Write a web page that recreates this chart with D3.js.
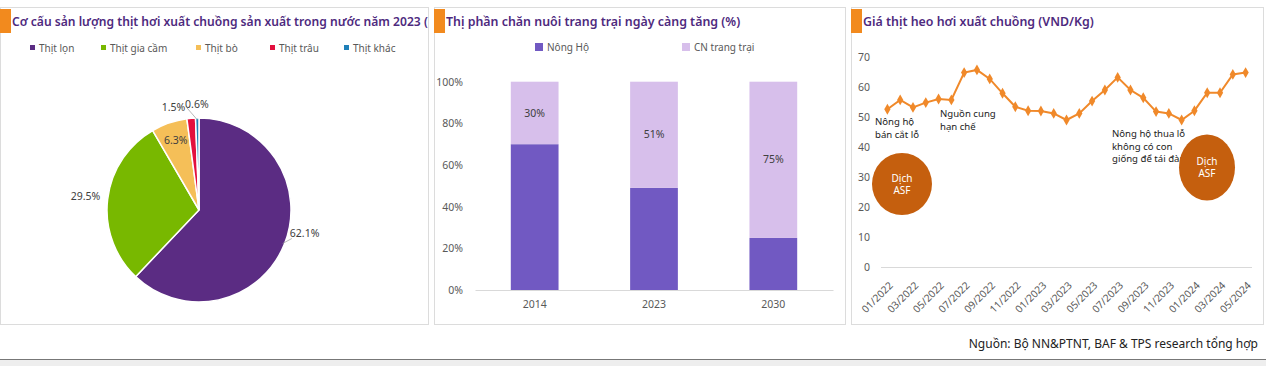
<!DOCTYPE html>
<html>
<head>
<meta charset="utf-8">
<script src="https://cdn.jsdelivr.net/npm/d3@7"></script>
<style>
  body { margin: 0; background: #fff; }
  svg { display: block; font-family: "Noto Sans", sans-serif; }
</style>
</head>
<body>
<svg id="chart" width="1266" height="366"></svg>
<script>
// ---- data ----
const meatTypes = ["Thịt lọn", "Thịt gia cầm", "Thịt bò", "Thịt trâu", "Thịt khác"];
const meatShares = [62.1, 29.5, 6.3, 1.5, 0.6];
const meatColors = ["#5b2c83", "#78b800", "#f5bf58", "#e3103e", "#1f80b8"];

const farmYears = ["2014", "2023", "2030"];
const householdShare = [70, 49, 25];
const farmShare = [30, 51, 75];
const farmSeries = ["Nông Hộ", "CN trang trại"];

const months = ["01/2022","02/2022","03/2022","04/2022","05/2022","06/2022","07/2022","08/2022",
  "09/2022","10/2022","11/2022","12/2022","01/2023","02/2023","03/2023","04/2023","05/2023",
  "06/2023","07/2023","08/2023","09/2023","10/2023","11/2023","12/2023","01/2024","02/2024",
  "03/2024","04/2024","05/2024"];
const hogPrice = [52.6, 55.7, 53.2, 54.8, 56.0, 55.7, 64.8, 65.7, 62.7, 57.9, 53.4, 52.1, 52.0,
  51.2, 49.0, 51.2, 55.3, 59.0, 63.2, 59.0, 56.4, 51.8, 51.2, 49.0, 52.1, 58.1, 58.1, 64.2, 64.8];
const priceTicks = [0, 10, 20, 30, 40, 50, 60, 70];

const svg = d3.select("#chart");
const titleColor = "#4e2a7e";
const axisText = "#595959";

// ---- panels ----
function panel(x, w, title, barX, fs) {
  svg.append("rect").attr("x", x + 0.5).attr("y", 7.5).attr("width", w).attr("height", 317)
    .attr("fill", "#fff").attr("stroke", "#dcdcdc");
  svg.append("rect").attr("x", barX).attr("y", 9).attr("width", 11).attr("height", 24).attr("fill", "#f28a1e");
  const id = "clip" + x;
  svg.append("clipPath").attr("id", id).append("rect")
    .attr("x", x).attr("y", 0).attr("width", w).attr("height", 40);
  svg.append("text").attr("clip-path", `url(#${id})`)
    .attr("x", barX + 12).attr("y", 26)
    .attr("font-size", fs).attr("font-weight", 600).attr("fill", titleColor)
    .text(title);
}
panel(0, 428, "Cơ cấu sản lượng thịt hơi xuất chuồng sản xuất trong nước năm 2023 (", 0, 12.1);
panel(434, 411, "Thị phần chăn nuôi trang trại ngày càng tăng (%)", 434, 12.4);
panel(851, 412, "Giá thịt heo hơi xuất chuồng (VND/Kg)", 851, 12.4);

// ---- pie ----
{
  const cx = 199, cy = 210, r = 92;
  const g = svg.append("g").attr("transform", `translate(${cx},${cy})`);
  const pie = d3.pie().sort(null).value(d => d)(meatShares);
  const arc = d3.arc().innerRadius(0).outerRadius(r);
  g.selectAll("path").data(pie).join("path")
    .attr("d", arc).attr("fill", (d, i) => meatColors[i])
    .attr("stroke", "#fff").attr("stroke-width", 1.5);

  const mid = d => (d.startAngle + d.endAngle) / 2;
  const pt = (a, rr) => [rr * Math.sin(a), -rr * Math.cos(a)];
  // label placement: radius factor, anchor, dx, dy
  const place = [
    { k: 1.04, anchor: "start", dx: 2, dy: -12, line: true },
    { k: 1.08, anchor: "end", dx: 0, dy: -2 },
    { k: 0.78, anchor: "middle", dx: 0, dy: -2 },
    { k: 1.12, anchor: "end", dx: -5, dy: 0 },
    { k: 1.12, anchor: "start", dx: -12, dy: -3, line: true }
  ];
  pie.forEach((d, i) => {
    const p = place[i];
    const [x, y] = pt(mid(d), r * p.k);
    const tx = x + p.dx, ty = y + p.dy;
    if (p.line) {
      const [x0, y0] = pt(mid(d), r * 0.98);
      g.append("line").attr("x1", x0).attr("y1", y0)
        .attr("x2", tx + (p.anchor === "start" ? 2 : -2)).attr("y2", ty + (i === 0 ? 5 : 4))
        .attr("stroke", "#a6a6a6").attr("stroke-width", 0.8);
    }
    g.append("text").attr("x", tx).attr("y", ty).attr("dy", "0.35em")
      .attr("text-anchor", p.anchor).attr("font-size", 10.5).attr("fill", "#404040")
      .text(d3.format(".1f")(meatShares[i]) + "%");
  });

  // legend
  const lg = svg.append("g").selectAll("g").data(meatTypes).join("g")
    .attr("transform", (d, i) => `translate(${[30, 101, 196, 270, 344][i]},48)`);
  lg.append("rect").attr("x", 0).attr("y", -3).attr("width", 5).attr("height", 5)
    .attr("fill", (d, i) => meatColors[i]);
  lg.append("text").attr("x", 9).attr("y", 0).attr("dy", "0.35em")
    .attr("font-size", 10).attr("fill", "#595959").text(d => d);
}

// ---- stacked bars ----
{
  const x = d3.scaleBand().domain(farmYears).range([475, 833]).paddingInner(0.6).paddingOuter(0.3);
  const y = d3.scaleLinear().domain([0, 100]).range([290, 81.7]);
  const colors = ["#7159c2", "#d7bfeb"];
  const rows = farmYears.map((yr, i) => ({ year: yr, h: householdShare[i], f: farmShare[i] }));
  const stack = d3.stack().keys(["h", "f"])(rows);

  const ya = svg.append("g").attr("transform", "translate(475,0)")
    .call(d3.axisLeft(y).tickValues([0, 20, 40, 60, 80, 100]).tickFormat(d => d + "%").tickSize(0).tickPadding(12));
  ya.select(".domain").remove();
  ya.selectAll("text").attr("font-size", 10.5).attr("fill", axisText).attr("font-family", "Noto Sans");

  svg.append("g").selectAll("g").data(stack).join("g")
    .attr("fill", (d, i) => colors[i])
    .selectAll("rect").data(d => d).join("rect")
    .attr("x", d => x(d.data.year)).attr("width", x.bandwidth())
    .attr("y", d => y(Math.min(100, d[1]))).attr("height", d => y(d[0]) - y(Math.min(100, d[1])));

  svg.append("g").selectAll("text").data(stack[1]).join("text")
    .attr("x", d => x(d.data.year) + x.bandwidth() / 2)
    .attr("y", d => y((d[0] + Math.min(100, d[1])) / 2))
    .attr("dy", "0.35em").attr("text-anchor", "middle")
    .attr("font-size", 10.5).attr("fill", "#404040")
    .text(d => d.data.f + "%");

  const xa = svg.append("g").attr("transform", "translate(0,290)")
    .call(d3.axisBottom(x).tickSize(0).tickPadding(11));
  xa.select(".domain").attr("stroke", "#d9d9d9");
  xa.selectAll("text").attr("font-size", 10.5).attr("fill", axisText).attr("font-family", "Noto Sans");

  const lg = svg.append("g").selectAll("g").data(farmSeries).join("g")
    .attr("transform", (d, i) => `translate(${[535, 682][i]},47)`);
  lg.append("rect").attr("x", 0).attr("y", -4).attr("width", 8).attr("height", 8).attr("fill", (d, i) => colors[i]);
  lg.append("text").attr("x", 12).attr("y", 0).attr("dy", "0.35em")
    .attr("font-size", 10).attr("fill", "#595959").text(d => d);
}

// ---- line chart ----
{
  const x = d3.scaleBand().domain(months).range([881, 1252]);
  const y = d3.scaleLinear().domain([0, 70]).range([267, 57]);
  const cxm = d => x(d) + x.bandwidth() / 2;

  const ya = svg.append("g").attr("transform", "translate(881,0)")
    .call(d3.axisLeft(y).tickValues(priceTicks).tickSize(0).tickPadding(11));
  ya.select(".domain").remove();
  ya.selectAll("text").attr("font-size", 10.5).attr("fill", axisText).attr("font-family", "Noto Sans");

  svg.append("line").attr("x1", 881).attr("x2", 1252).attr("y1", y(0) + 0.5).attr("y2", y(0) + 0.5)
    .attr("stroke", "#d9d9d9");

  const xa = svg.append("g").attr("transform", `translate(0,${y(0)})`)
    .call(d3.axisBottom(x).tickValues(months.filter((m, i) => i % 2 === 0)).tickSize(0));
  xa.select(".domain").remove();
  xa.selectAll("text")
    .attr("font-size", 10.2).attr("fill", axisText).attr("font-family", "Noto Sans")
    .attr("text-anchor", "end").attr("dy", 0)
    .attr("transform", "translate(4,17) rotate(-45)");

  const pts = months.map((m, i) => [cxm(m), y(hogPrice[i])]);
  svg.append("path").attr("d", d3.line()(pts))
    .attr("fill", "none").attr("stroke", "#f0892a").attr("stroke-width", 2);
  svg.append("g").selectAll("path").data(pts).join("path")
    .attr("transform", d => `translate(${d[0]},${d[1]})`)
    .attr("d", d3.symbol(d3.symbolDiamond, 34)).attr("fill", "#f0892a");

  const notes = [
    { x: 875, y: 122, lines: ["Nông hộ", "bán cắt lỗ"] },
    { x: 940, y: 114, lines: ["Nguồn cung", "hạn chế"] },
    { x: 1112, y: 134, lines: ["Nông hộ thua lỗ", "không có con", "giống để tái đàn"] }
  ];
  notes.forEach(n => {
    const t = svg.append("text").attr("font-size", 9.6).attr("fill", "#222");
    n.lines.forEach((l, i) => t.append("tspan").attr("x", n.x).attr("y", n.y + i * 12.5).attr("dy", "0.35em").text(l));
  });

  const blobs = [{ cx: 902, cy: 184, rx: 30, ry: 31 }, { cx: 1207, cy: 167.5, rx: 28, ry: 33 }];
  blobs.forEach(b => {
    svg.append("ellipse").attr("cx", b.cx).attr("cy", b.cy).attr("rx", b.rx).attr("ry", b.ry).attr("fill", "#c55f0e");
    const t = svg.append("text").attr("text-anchor", "middle").attr("font-size", 10).attr("fill", "#fff");
    ["Dịch", "ASF"].forEach((l, i) => t.append("tspan").attr("x", b.cx).attr("y", b.cy - 6 + i * 12).attr("dy", "0.35em").text(l));
  });
}

// ---- footer ----
svg.append("text").attr("x", 1258).attr("y", 344).attr("dy", "0.35em").attr("text-anchor", "end")
  .attr("font-size", 12).attr("fill", "#222").text("Nguồn: Bộ NN&PTNT, BAF & TPS research tổng hợp");
svg.append("rect").attr("x", 0).attr("y", 359).attr("width", 1266).attr("height", 7).attr("fill", "#eeeeee");
svg.append("line").attr("x1", 0).attr("x2", 1266).attr("y1", 359.5).attr("y2", 359.5).attr("stroke", "#777");
</script>
</body>
</html>
